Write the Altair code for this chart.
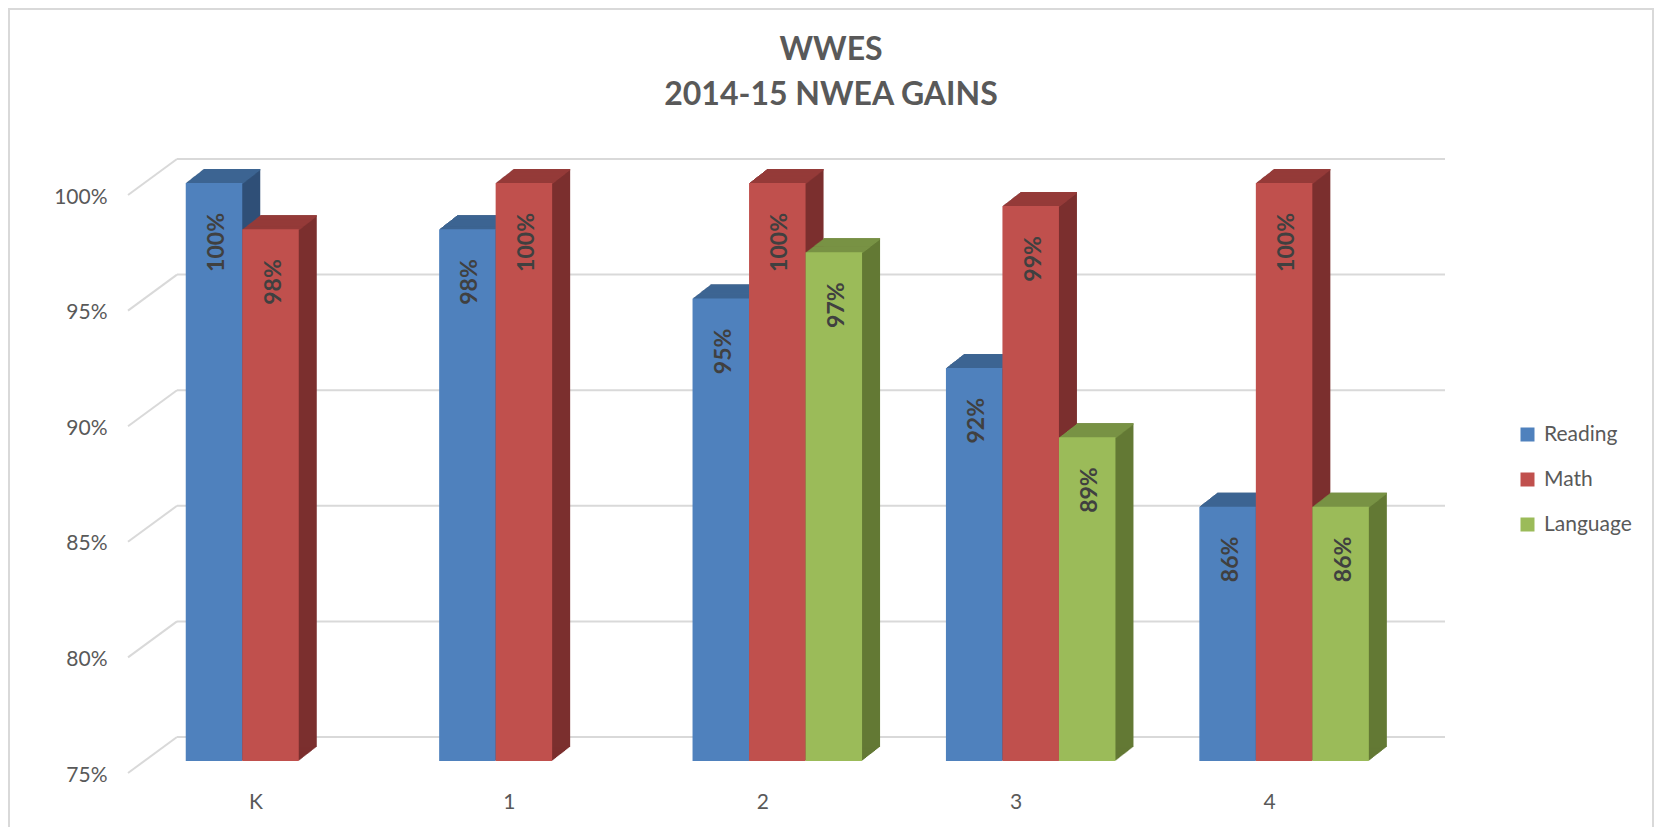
import json
import altair as alt
import pandas as pd

# ---- data ----
GRADES = ["K", "1", "2", "3", "4"]
SERIES = ["Reading", "Math", "Language"]
READING = [100, 98, 95, 92, 86]
MATH = [98, 100, 100, 99, 100]
LANGUAGE = [None, None, 97, 89, 86]
Y_TICKS = [75, 80, 85, 90, 95, 100]
TITLE = ["WWES", "2014-15 NWEA GAINS"]

# ---- styles ----
FRONT = ["#4F81BD", "#C0504D", "#9BBB59"]
TOP = ["#3D6592", "#953B39", "#789244"]
SIDE = ["#2F4F77", "#7B2F2E", "#637934"]
GRID = "#D9D9D9"
TEXT = "#595959"
FONT = "Lato"

rows = []
for si, (name, vals) in enumerate(zip(SERIES, [READING, MATH, LANGUAGE])):
    for gi, (g, v) in enumerate(zip(GRADES, vals)):
        if v is not None:
            rows.append({"grade": g, "gi": gi, "series": name, "si": si, "value": v})
df = pd.DataFrame(rows)
grid_df = pd.DataFrame({"tick": Y_TICKS})

W, H = 1317, 578
BW = 0.223                 # bar width in group units
XDOM = [-0.5624, 4.635]
DX, DY, N = 18, 14, 18     # 3D depth in px

xs = alt.Scale(domain=XDOM, nice=False, zero=False)
ys = alt.Scale(domain=[75, 100], nice=False, zero=False)

X_AXIS = alt.Axis(values=list(range(len(GRADES))),
                  labelExpr=f"{json.dumps(GRADES)}[datum.value]",
                  domain=False, ticks=False, grid=False, labelPadding=30,
                  labelOffset=-15, labelFontSize=21, labelFont=FONT,
                  labelColor=TEXT, title=None)
Y_AXIS = alt.Axis(values=Y_TICKS, labelExpr="datum.value + '%'",
                  domain=False, ticks=False, tickSize=0, grid=False,
                  labelPadding=21, labelOffset=14, labelFontSize=21,
                  labelFont=FONT, labelColor=TEXT, title=None)

base = alt.Chart(df).transform_calculate(
    x0=f"datum.gi + (datum.si - 1.5) * {BW}",
    x1=f"datum.gi + (datum.si - 0.5) * {BW}",
    xc=f"datum.gi + (datum.si - 1) * {BW}",
    label="datum.value + '%'",
)

x_enc = alt.X("x0:Q", scale=xs, axis=X_AXIS)
y_enc = alt.Y("value:Q", scale=ys, axis=Y_AXIS)


def color_enc(rng, legend=None):
    if legend is None:
        return alt.Color("series:N", scale=alt.Scale(domain=SERIES, range=rng), legend=None)
    return alt.Color("series:N", scale=alt.Scale(domain=SERIES, range=rng), legend=legend)


one = pd.DataFrame({"a": [0]})

# frame
frame = alt.Chart(one).mark_rect(
    fillOpacity=0, stroke=GRID, strokeWidth=2
).encode(x=alt.value(-119), x2=alt.value(1525), y=alt.value(-174), y2=alt.value(700))

# title lines
title_layers = [
    alt.Chart(one).mark_text(font=FONT, fontSize=32, fontWeight="bold", color=TEXT,
                             align="center", baseline="middle").encode(
        x=alt.value(703), y=alt.value(yv), text=alt.value(t))
    for t, yv in zip(TITLE, [-133, -88])
]

# back-wall gridlines and side-wall diagonals
grid_back = alt.Chart(grid_df).mark_rule(color=GRID, strokeWidth=2, yOffset=-24).encode(
    x=alt.value(49), x2=alt.value(W), y=alt.Y("tick:Q", scale=ys, axis=Y_AXIS))
grid_diag = alt.Chart(grid_df).mark_rule(color=GRID, strokeWidth=2, yOffset=12, y2Offset=-24).encode(
    x=alt.value(0), x2=alt.value(49), y=alt.Y("tick:Q", scale=ys, axis=Y_AXIS), y2="tick:Q")

layers = [frame, grid_back, grid_diag]

# side extrusion
for k in range(1, N + 1):
    yo = -k * DY / N
    xo = k * DX / N
    layers.append(base.mark_bar(xOffset=xo, x2Offset=xo, yOffset=yo, y2Offset=yo).encode(
        x=x_enc, x2="x1:Q", y=y_enc, y2=alt.datum(75), color=color_enc(SIDE)))

# top face
for k in range(1, N + 1):
    yo = -k * DY / N
    xo = k * DX / N
    layers.append(base.mark_bar(xOffset=xo, x2Offset=xo, yOffset=yo, y2Offset=yo + 1.5).encode(
        x=x_enc, x2="x1:Q", y=y_enc, y2="value:Q", color=color_enc(TOP)))

legend = alt.Legend(title=None, orient="none", legendX=1389, legendY=241,
                    symbolType="square", symbolSize=196, symbolStrokeWidth=0,
                    labelFontSize=21, labelFont=FONT, labelColor=TEXT,
                    labelOffset=6, rowPadding=23, padding=0)
front = base.mark_bar().encode(
    x=x_enc, x2="x1:Q", y=y_enc, y2=alt.datum(75), color=color_enc(FRONT, legend))
layers.append(front)

labels = base.mark_text(angle=270, align="right", baseline="middle", dx=-30, dy=3,
                        font=FONT, fontSize=23, fontWeight="bold", color="#404040").encode(
    x=alt.X("xc:Q", scale=xs, axis=X_AXIS), y=y_enc, text="label:N")
layers.append(labels)
layers.extend(title_layers)

chart = alt.layer(*layers).resolve_scale(color="independent").properties(
    width=W, height=H,
    background="white",
    autosize=alt.AutoSizeParams(type="none"),
    padding={"left": 120, "top": 175, "right": 209, "bottom": 66},
).configure_view(strokeWidth=0)

chart.save("out.html", embed_options={"renderer": "svg", "actions": False})
